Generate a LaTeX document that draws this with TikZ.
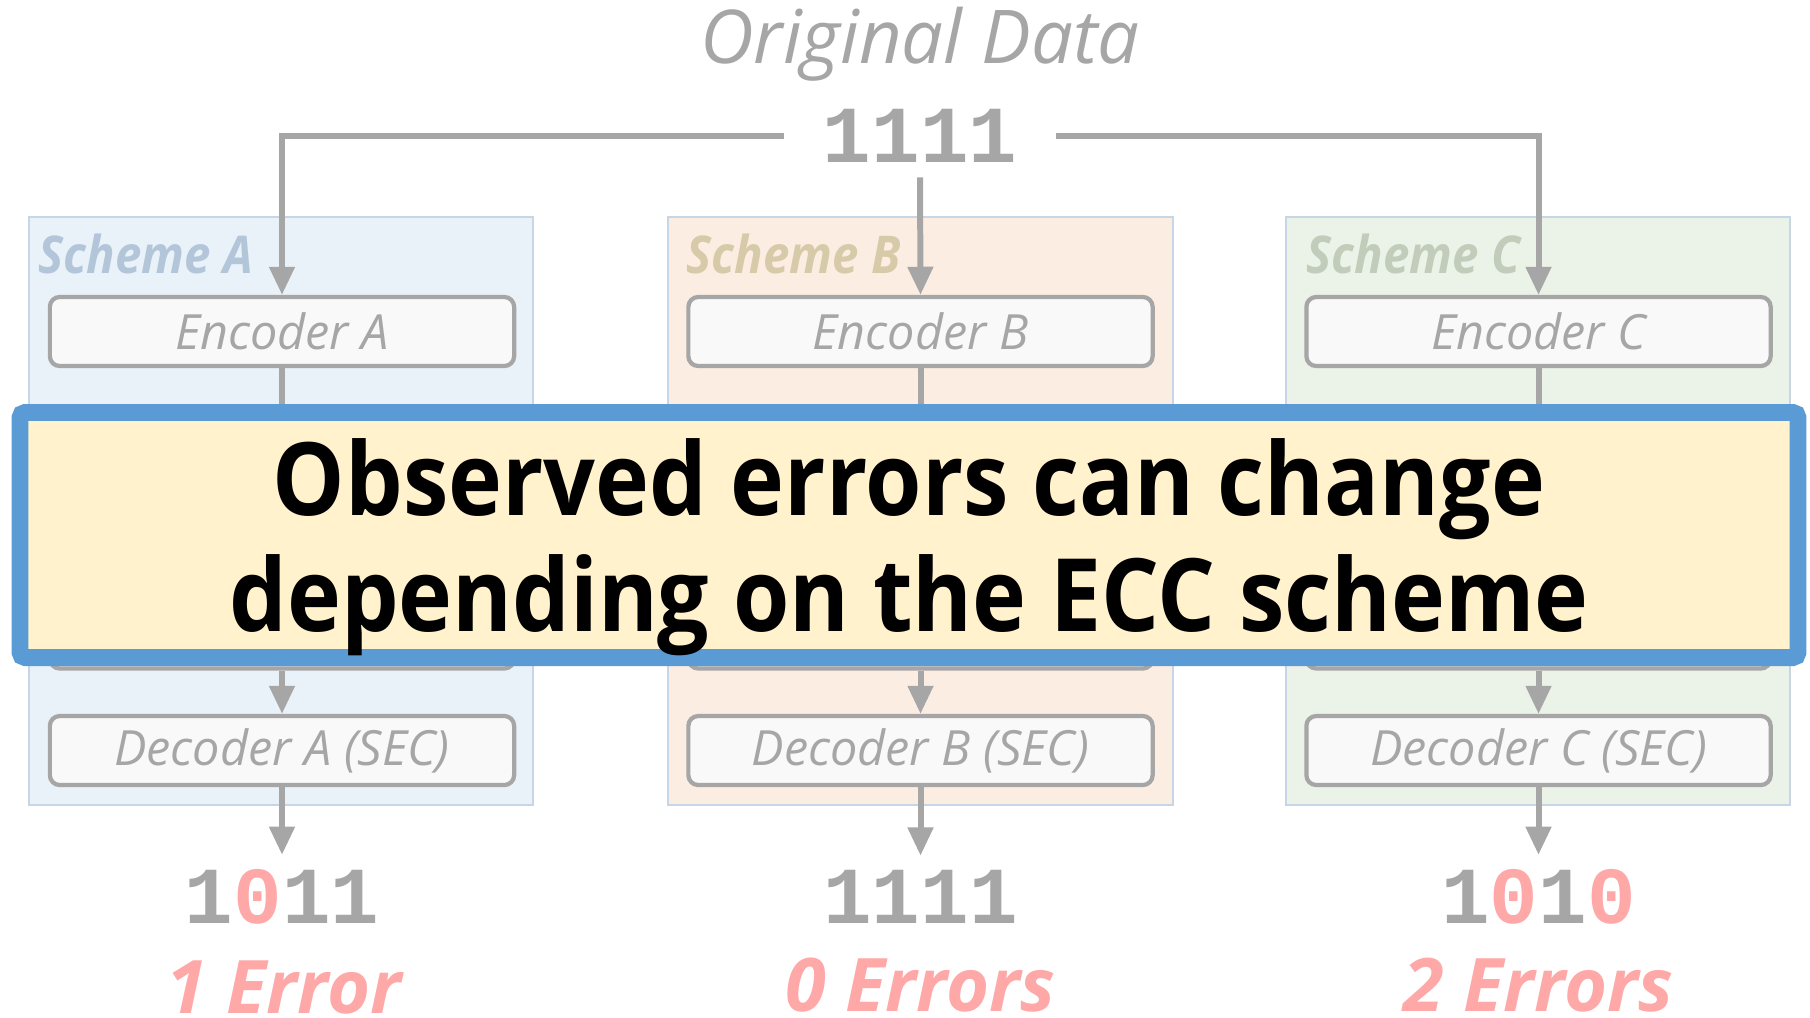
\documentclass[tikz,border=0pt]{standalone}
\usepackage{fontspec}
\setmainfont{Open Sans}
\newfontfamily\bannerfont[FakeStretch=0.9]{Open Sans}
\newfontfamily\labelfont[FakeStretch=0.91]{Open Sans}
\newfontfamily\digitfont{Liberation Mono}
\usetikzlibrary{arrows.meta}

\definecolor{linegray}{HTML}{A6A6A6}
\definecolor{unitfill}{HTML}{F9F9F9}
\definecolor{schemeline}{HTML}{C6D6E6}
\definecolor{fillA}{HTML}{E9F1F9}
\definecolor{fillB}{HTML}{FBEDE2}
\definecolor{fillC}{HTML}{EBF2E7}
\definecolor{labelA}{HTML}{B3C6D9}
\definecolor{labelB}{HTML}{D6CAA8}
\definecolor{labelC}{HTML}{C2CCBA}
\definecolor{errpink}{HTML}{FFA8A8}
\definecolor{bannerline}{HTML}{5B9BD5}
\definecolor{bannerfill}{HTML}{FFF2CC}

\tikzset{
  flow/.style={draw=linegray, line width=1.7pt,
    -{Triangle[length=8pt,width=7pt]}},
  plain/.style={draw=linegray, line width=1.7pt},
  unit/.style={draw=linegray, line width=1.2pt, fill=unitfill,
    rounded corners=2.8pt, minimum width=4.64cm, minimum height=0.69cm,
    inner sep=0pt, text=linegray, font=\itshape\fontsize{13.8}{16}\selectfont},
  schemebox/.style={draw=schemeline, line width=0.6pt},
  schemelabel/.style={anchor=west, inner sep=0pt,
    font=\labelfont\bfseries\itshape\fontsize{14.8}{17}\selectfont},
  bits/.style={inner xsep=11pt, inner ysep=4pt, text=linegray,
    font=\digitfont\bfseries\fontsize{23}{26}\selectfont},
  errcount/.style={inner sep=0pt, text=errpink,
    font=\bfseries\itshape\fontsize{21}{24}\selectfont},
  banner/.style={draw=bannerline, line width=4.8pt, fill=bannerfill,
    rounded corners=1.5pt, minimum width=17.77cm, minimum height=2.45cm,
    inner sep=0pt},
  bannertext/.style={align=center, inner sep=0pt,
    font=\bannerfont\bfseries\fontsize{28.8}{32.8}\selectfont}
}

\begin{document}
\begin{tikzpicture}[x=0.01cm, y=-0.01cm]
\useasboundingbox (0,0) rectangle (1810,1017);

% scheme panels
\draw[schemebox, fill=fillA] (29,217) rectangle (533,805);
\draw[schemebox, fill=fillB] (668,217) rectangle (1173,805);
\draw[schemebox, fill=fillC] (1286,217) rectangle (1790,805);
\node[schemelabel, text=labelA] (lblA) at (38,254) {Scheme A};
\node[schemelabel, text=labelB] (lblB) at (686,254) {Scheme B};
\node[schemelabel, text=labelC] (lblC) at (1306,254) {Scheme C};

% source data
\node[inner sep=0pt, text=linegray,
  font=\itshape\fontsize{21.1}{25}\selectfont] (title) at (920,44) {Original Data};
\node[bits] (in) at (920,136) {1111};

% encoders, hidden middle stage, decoders
\node[unit] (encA) at (282,331.5) {Encoder A};
\node[unit] (encB) at (920.5,331.5) {Encoder B};
\node[unit] (encC) at (1538.5,331.5) {Encoder C};
\node[unit] (midA) at (282,634) {};
\node[unit] (midB) at (920.5,634) {};
\node[unit] (midC) at (1538.5,634) {};
\node[unit] (decA) at (282,750.5) {Decoder A (SEC)};
\node[unit] (decB) at (920.5,750.5) {Decoder B (SEC)};
\node[unit] (decC) at (1538.5,750.5) {Decoder C (SEC)};

% outputs
\node[bits] (outA) at (282,897) {1\textcolor{errpink}{0}11};
\node[bits] (outB) at (920.5,897) {1111};
\node[bits] (outC) at (1538.5,897) {1\textcolor{errpink}{0}1\textcolor{errpink}{0}};
\node[errcount] (errA) at (284,987) {1 Error};
\node[errcount] (errB) at (920.5,985) {0 Errors};
\node[errcount] (errC) at (1538.5,985) {2 Errors};

% connectors
\draw[flow] (in.west) -| (encA.north);
\draw[flow] (in.south) -- (encB.north);
\draw[flow] (in.east) -| (encC.north);
\foreach \s in {A,B,C}{
  \draw[plain] (enc\s.south) -- (mid\s.north);
  \draw[flow] (mid\s.south) -- (dec\s.north);
  \draw[flow] (dec\s.south) -- (out\s.north);
}

% message banner
\node[banner] (msg) at (909,535) {};
\node[bannertext] (msgtext) at (909,547)
  {Observed errors can change\\depending on the ECC scheme};
\end{tikzpicture}
\end{document}
